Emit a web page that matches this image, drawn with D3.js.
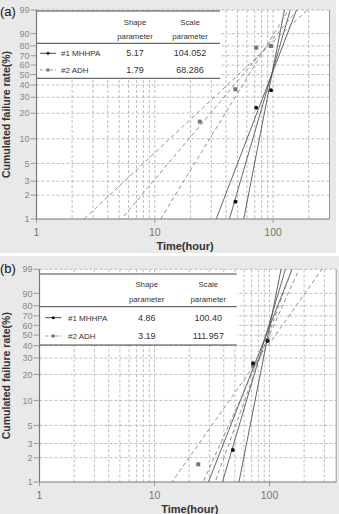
<!DOCTYPE html>
<html>
<head>
<meta charset="utf-8">
<script src="https://cdn.jsdelivr.net/npm/d3@7"></script>
<style>
  body { margin: 0; background: #fff; }
  svg { display: block; font-family: "Liberation Sans", Arial, sans-serif; }
</style>
</head>
<body>
<div id="chart"></div>
<script>
// ---- data (times in hours, failure in %) ----
const seriesNames = ['#1 MHHPA', '#2 ADH'];

// panel (a)
const timesA1 = [48, 72, 96];
const failA1 = [1.65, 23.1, 35.4];
const timesA2 = [24, 48, 72, 96];
const failA2 = [16.0, 36.3, 78.2, 79.9];
const shapeA = [5.17, 1.79];
const scaleA = [104.052, 68.286];
const shapeTextA = ['5.17', '1.79'];
const scaleTextA = ['104.052', '68.286'];
// bound lines [low shape, high shape]
const boundShapeA1 = [3.92, 7.73];
const boundScaleA1 = [106.8, 102.4];
const boundShapeA2 = [1.41, 2.46];
const boundScaleA2 = [65.9, 72.6];

// panel (b)
const timesB1 = [48, 72, 96];
const failB1 = [2.5, 26.4, 44.2];
const timesB2 = [24, 72, 96];
const failB2 = [1.66, 25.0, 45.0];
const shapeB = [4.86, 3.19];
const scaleB = [100.40, 111.957];
const shapeTextB = ['4.86', '3.19'];
const scaleTextB = ['100.40', '111.957'];
const boundShapeB1 = [3.66, 7.28];
const boundScaleB1 = [103.4, 102.1];
const boundShapeB2 = [2.04, 3.98];
const boundScaleB2 = [135, 106.9];

const yTicks = [1, 2, 3, 5, 10, 20, 30, 40, 50, 60, 70, 80, 90, 99];
const xTicks = [1, 10, 100];
const xGrid = [2, 3, 4, 5, 6, 7, 8, 9, 10, 20, 30, 40, 50, 60, 70, 80, 90, 100, 200, 300];

// weibull probability transform
const wb = p => Math.log(-Math.log(1 - p / 100));

const W = 339, H = 514;
const svg = d3.select('#chart').append('svg')
  .attr('width', W)
  .attr('height', H);

function drawPanel(cfg) {
  let g = svg.append('g');

  g.append('rect')
    .attr('x', 0).attr('y', cfg.bgTop)
    .attr('width', cfg.bgW).attr('height', cfg.bgH)
    .attr('fill', '#e9e9e9');

  let x = d3.scaleLog().domain([1, cfg.xMax]).range([cfg.left, cfg.left + cfg.decade * Math.log10(cfg.xMax)]);
  let y = d3.scaleLinear().domain([wb(1), wb(99)]).range([cfg.bottom, cfg.top]);
  let [x0, x1] = x.range();

  g.append('rect')
    .attr('x', x0).attr('y', cfg.top)
    .attr('width', x1 - x0).attr('height', cfg.bottom - cfg.top)
    .attr('fill', '#fff');

  // grid
  g.selectAll('.vg').data(xGrid).enter().append('line')
    .attr('x1', d => x(d)).attr('x2', d => x(d))
    .attr('y1', cfg.top).attr('y2', cfg.bottom)
    .attr('stroke', '#adadad').attr('stroke-width', 0.8)
    .attr('stroke-dasharray', '3,2');
  g.selectAll('.hg').data(yTicks.slice(1)).enter().append('line')
    .attr('x1', x0).attr('x2', x1)
    .attr('y1', d => y(wb(d))).attr('y2', d => y(wb(d)))
    .attr('stroke', '#adadad').attr('stroke-width', 0.8)
    .attr('stroke-dasharray', '3,2');

  // right border
  g.append('line')
    .attr('x1', x1).attr('x2', x1).attr('y1', cfg.top).attr('y2', cfg.bottom)
    .attr('stroke', '#999').attr('stroke-width', 1);

  // legend / parameter table
  let t = cfg.table;
  g.append('rect')
    .attr('x', x0).attr('y', t.top)
    .attr('width', t.right - x0).attr('height', t.bottom - t.top)
    .attr('fill', '#fff');
  [t.top, t.mid, t.bottom].forEach(yy => {
    g.append('line')
      .attr('x1', x0).attr('x2', t.right).attr('y1', yy).attr('y2', yy)
      .attr('stroke', '#444').attr('stroke-width', 1);
  });
  let head = g.append('g').attr('font-size', 7.8).attr('fill', '#333').attr('text-anchor', 'middle');
  head.append('text').attr('x', t.shapeX).attr('y', t.head1).text('Shape');
  head.append('text').attr('x', t.shapeX).attr('y', t.head2).text('parameter');
  head.append('text').attr('x', t.scaleX).attr('y', t.head1).text('Scale');
  head.append('text').attr('x', t.scaleX).attr('y', t.head2).text('parameter');

  seriesNames.forEach((name, i) => {
    let ry = t.rows[i];
    g.append('line')
      .attr('x1', t.symX - 8).attr('x2', t.symX + 8).attr('y1', ry - 3).attr('y2', ry - 3)
      .attr('stroke', i ? '#888' : '#333').attr('stroke-width', 0.9)
      .attr('stroke-dasharray', i ? '3,2' : null);
    if (i) {
      g.append('rect').attr('x', t.symX - 1.5).attr('y', ry - 4.5).attr('width', 3).attr('height', 3).attr('fill', '#777');
    } else {
      g.append('circle').attr('cx', t.symX).attr('cy', ry - 3).attr('r', 1.5).attr('fill', '#111');
    }
    g.append('text').attr('x', t.labelX).attr('y', ry).attr('font-size', 8).attr('fill', '#333').text(name);
    g.append('text').attr('x', t.shapeX).attr('y', ry).attr('font-size', 9).attr('fill', '#333')
      .attr('text-anchor', 'middle').text(cfg.shapeText[i]);
    g.append('text').attr('x', t.scaleX).attr('y', ry).attr('font-size', 9).attr('fill', '#333')
      .attr('text-anchor', 'middle').text(cfg.scaleText[i]);
  });

  // fitted lines and bounds
  let clipId = 'clip' + cfg.id;
  g.append('clipPath').attr('id', clipId).append('rect')
    .attr('x', x0).attr('y', cfg.top).attr('width', x1 - x0).attr('height', cfg.bottom - cfg.top);

  let line = d3.line().x(d => x(d[0])).y(d => y(d[1]));
  let fitLines = [];
  [0, 1].forEach(i => {
    let shapes = [cfg.shape[i]].concat(cfg.boundShape[i]);
    let scales = [cfg.scale[i]].concat(cfg.boundScale[i]);
    shapes.forEach((b, j) => {
      let eta = scales[j];
      let pts = [wb(0.5), wb(99.5)].map(w => [eta * Math.exp(w / b), w]);
      fitLines.push({ series: i, pts });
    });
  });
  g.append('g').attr('clip-path', `url(#${clipId})`)
    .selectAll('path').data(fitLines).enter().append('path')
    .attr('d', d => line(d.pts))
    .attr('fill', 'none')
    .attr('stroke', d => d.series ? '#858585' : '#555')
    .attr('stroke-width', 0.9)
    .attr('stroke-dasharray', d => d.series ? '4,3' : null);

  // data points
  g.selectAll('.p2').data(d3.zip(cfg.times[1], cfg.fail[1])).enter().append('rect')
    .attr('x', d => x(d[0]) - 2).attr('y', d => y(wb(d[1])) - 2)
    .attr('width', 4).attr('height', 4).attr('fill', '#777');
  g.selectAll('.p1').data(d3.zip(cfg.times[0], cfg.fail[0])).enter().append('circle')
    .attr('cx', d => x(d[0])).attr('cy', d => y(wb(d[1]))).attr('r', 2)
    .attr('fill', '#111');

  // axes
  g.append('line').attr('x1', x0).attr('x2', x0).attr('y1', cfg.top).attr('y2', cfg.bottom)
    .attr('stroke', '#777').attr('stroke-width', 1.2);
  g.append('line').attr('x1', x0).attr('x2', x1).attr('y1', cfg.bottom).attr('y2', cfg.bottom)
    .attr('stroke', '#777').attr('stroke-width', 1.2);

  let yt = g.selectAll('.yt').data(yTicks).enter().append('g')
    .attr('transform', d => `translate(${x0},${y(wb(d))})`);
  yt.append('line').attr('x1', -6).attr('x2', 0).attr('stroke', '#888').attr('stroke-width', 0.8);
  yt.append('text').attr('x', -7).attr('dy', '0.35em').attr('text-anchor', 'end')
    .attr('font-size', 9).attr('fill', '#888').text(d => d);

  let xt = g.selectAll('.xt').data(xTicks).enter().append('g')
    .attr('transform', d => `translate(${x(d)},${cfg.bottom})`);
  xt.append('line').attr('y1', 0).attr('y2', 4).attr('stroke', '#888').attr('stroke-width', 0.8);
  xt.append('text').attr('y', 17).attr('text-anchor', 'middle')
    .attr('font-size', 10.5).attr('fill', '#777').text(d => d);

  g.append('text')
    .attr('x', (x0 + x1) / 2 + 2).attr('y', cfg.bottom + 31)
    .attr('text-anchor', 'middle').attr('font-size', 11).attr('font-weight', 'bold')
    .attr('fill', '#333').text('Time(hour)');

  g.append('text')
    .attr('transform', `translate(10,${(cfg.top + cfg.bottom) / 2}) rotate(-90)`)
    .attr('text-anchor', 'middle').attr('font-size', 10.5).attr('font-weight', 'bold')
    .attr('fill', '#333').text('Cumulated failure rate(%)');

  g.append('text')
    .attr('x', 0).attr('y', cfg.labelY)
    .attr('font-size', 13).attr('fill', '#111').text(cfg.label);
}

drawPanel({
  id: 'a', label: '(a)', labelY: 16,
  bgTop: 0, bgW: 336, bgH: 253,
  left: 36.5, decade: 118.3, xMax: 300, top: 10, bottom: 219,
  times: [timesA1, timesA2], fail: [failA1, failA2],
  shape: shapeA, scale: scaleA, shapeText: shapeTextA, scaleText: scaleTextA,
  boundShape: [boundShapeA1, boundShapeA2], boundScale: [boundScaleA1, boundScaleA2],
  table: { top: 11, mid: 43.3, bottom: 78.3, right: 220, head1: 24.5, head2: 38.5,
           rows: [56.3, 73], symX: 48, labelX: 61, shapeX: 135, scaleX: 190 }
});

drawPanel({
  id: 'b', label: '(b)', labelY: 273,
  bgTop: 256, bgW: 339, bgH: 258,
  left: 39.5, decade: 115, xMax: 380, top: 269.3, bottom: 482,
  times: [timesB1, timesB2], fail: [failB1, failB2],
  shape: shapeB, scale: scaleB, shapeText: shapeTextB, scaleText: scaleTextB,
  boundShape: [boundShapeB1, boundShapeB2], boundScale: [boundScaleB1, boundScaleB2],
  table: { top: 274, mid: 306.7, bottom: 345, right: 236.7, head1: 287, head2: 301.5,
           rows: [320.7, 339], symX: 53.3, labelX: 68, shapeX: 146.7, scaleX: 208.3 }
});
</script>
</body>
</html>
